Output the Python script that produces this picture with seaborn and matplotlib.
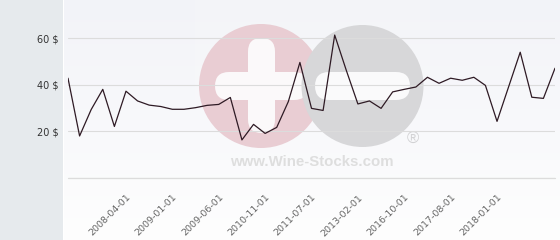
import numpy as np
import pandas as pd
import matplotlib
matplotlib.use("Agg")
import matplotlib.pyplot as plt
import matplotlib.transforms as mtransforms
from matplotlib.patches import Circle, FancyBboxPatch, Rectangle
import seaborn as sns

# ---- data ----
prices = [42.8, 17.9, 29.3, 38.0, 22.0, 37.2, 33.0, 31.2, 30.6, 29.4,
          29.4, 30.1, 31.1, 31.5, 34.5, 16.2, 22.9, 19.0, 21.6, 32.7,
          49.6, 29.8, 28.9, 61.4, 46.2, 31.7, 33.0, 29.8, 36.9, 38.0,
          39.0, 43.2, 40.6, 42.8, 41.9, 43.2, 39.7, 24.2, 39.1, 54.0,
          34.6, 34.1, 47.1]
tick_labels = ["2008-04-01", "2009-01-01", "2009-06-01", "2010-11-01",
               "2011-07-01", "2013-02-01", "2016-10-01", "2017-08-01",
               "2018-01-01"]
first_label, label_step = 5, 4
y_ticks = [0, 20, 40, 60]
y_tick_labels = ["", "20 $", "40 $", "60 $"]

df = pd.DataFrame({"idx": np.arange(len(prices)), "price": prices})

sns.set_theme(style="white")
plt.rcParams["font.family"] = ["DejaVu Sans"]

W, H = 560, 240
fig = plt.figure(figsize=(W / 100, H / 100), dpi=100)

# ---- background layer (pixel coordinates) ----
bg = fig.add_axes([0, 0, 1, 1], zorder=0)
bg.set_xlim(0, W)
bg.set_ylim(H, 0)
bg.axis("off")
grad = np.linspace(0, 1, 256).reshape(-1, 1)
top = np.array([0xf2, 0xf3, 0xf8]) / 255
bot = np.array([0xfe, 0xfe, 0xfe]) / 255
img = top[None, None, :] * (1 - grad[..., None]) + bot[None, None, :] * grad[..., None]
bg.imshow(img, extent=[63, W, H, 0], aspect="auto", zorder=0)
bg.add_patch(Rectangle((0, 0), 62.5, H, color="#e6eaed", zorder=1, lw=0))
bg.add_patch(Rectangle((62.5, 0), 1, H, color="#ffffff", zorder=1, lw=0))

# watermark
bg.add_patch(Rectangle((195, 0), 235, 176, color="white", alpha=0.12, lw=0, zorder=2))
bg.add_patch(Circle((261, 86), 62, color="#e9cdd3", lw=0, zorder=3))
bg.add_patch(FancyBboxPatch((248 + 13.5, 38 + 13.5), 0, 95 - 27,
                            boxstyle="round,pad=13.5", color="#fbf9fa", lw=0, zorder=4))
bg.add_patch(FancyBboxPatch((215 + 14, 72 + 14), 93 - 28, 0,
                            boxstyle="round,pad=14", color="#fbf9fa", lw=0, zorder=4))
bg.add_patch(Circle((362.5, 86), 61, color="#d7d7d9", lw=0, zorder=5))
bg.add_patch(FancyBboxPatch((315 + 14, 72 + 14), 95 - 28, 0,
                            boxstyle="round,pad=14", color="#fafafb", lw=0, zorder=6))
bg.text(413, 139, "®", fontsize=12, color="#d2d2d4", ha="center", va="center",
        family=["Liberation Sans", "DejaVu Sans"], zorder=6)
bg.text(312, 162, "www.Wine-Stocks.com", fontsize=10.8, color="#dedede",
        fontweight="bold", ha="center", va="center",
        family=["Liberation Sans", "DejaVu Sans"], zorder=6)

# ---- main chart ----
left, right, bottom_px = 68, 555, 177.5
ax = fig.add_axes([left / W, (H - bottom_px) / H, (right - left) / W, bottom_px / H], zorder=1)
ax.patch.set_alpha(0)
sns.lineplot(data=df, x="idx", y="price", ax=ax, color="#2e1a24", linewidth=0.9)
ax.set_xlim(0, len(prices) - 1)
ax.set_ylim(0, bottom_px / 2.32)
for s in ax.spines.values():
    s.set_visible(False)
ax.set_yticks(y_ticks)
ax.set_yticklabels(y_tick_labels, fontsize=7, color="#333333")
ax.yaxis.grid(True, color="#dcdcdc", linewidth=0.8)
ax.axhline(0, color="#dcdcdc", linewidth=0.9, clip_on=False, zorder=0)
ax.tick_params(axis="y", length=0, pad=6.5)
pos = [first_label + label_step * i for i in range(len(tick_labels))]
ax.set_xticks(pos)
ax.set_xticklabels(tick_labels, fontsize=6.8, color="#666666", rotation=45,
                   ha="right", va="top", rotation_mode="anchor")
shift = mtransforms.ScaledTranslation(3.5 / 100, 0, fig.dpi_scale_trans)
for lbl in ax.get_xticklabels():
    lbl.set_transform(lbl.get_transform() + shift)
ax.tick_params(axis="x", length=0, pad=11)
ax.set_xlabel("")
ax.set_ylabel("")

fig.savefig("out.png", dpi=100)
